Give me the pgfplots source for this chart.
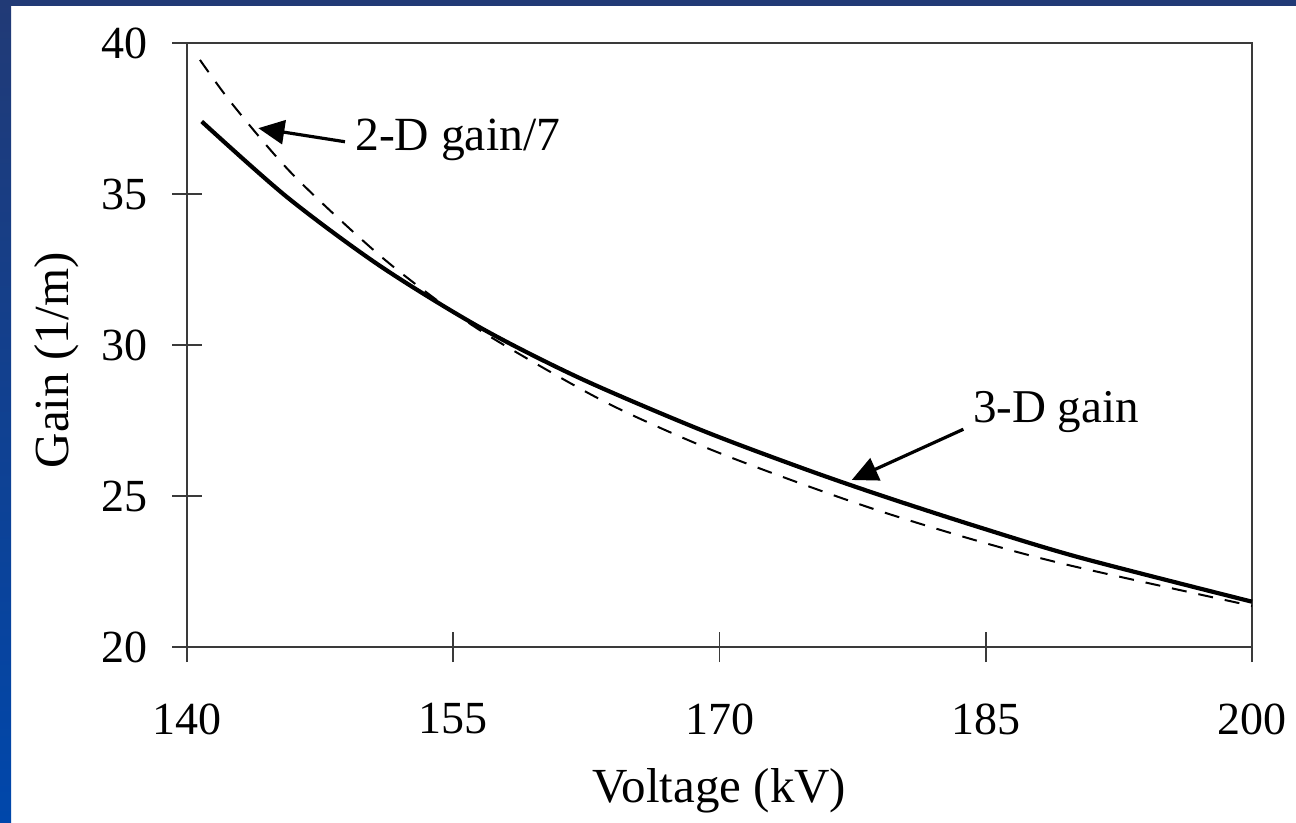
\documentclass[border=0pt]{standalone}
\usepackage{fontspec}
\setmainfont{Liberation Serif}
\usepackage{pgfplots}
\pgfplotsset{compat=1.18}
\usetikzlibrary{arrows.meta}
\definecolor{navy}{HTML}{213A76}
\definecolor{slideblue}{HTML}{0047AB}
\definecolor{axgray}{HTML}{3A3A3A}
\begin{document}
\begin{tikzpicture}
\useasboundingbox (0,0) rectangle (648bp,411.5bp);
\fill[white] (0,0) rectangle (648bp,411.5bp);
\shade[top color=navy, bottom color=slideblue] (0,0) rectangle (5.5bp,411.5bp);
\fill[navy] (0,408.5bp) rectangle (648bp,411.5bp);
\begin{axis}[
  at={(93.5bp,88bp)}, anchor=south west,
  scale only axis, width=532.5bp, height=302bp,
  xmin=140, xmax=200, ymin=20, ymax=40,
  xtick={140,155,170,185,200}, ytick={20,25,30,35,40},
  tick align=center, xtick pos=bottom, ytick pos=left,
  major tick length=15bp,
  axis line style={axgray, line width=1.3bp},
  every tick/.style={axgray, line width=0.9bp},
  /pgf/number format/assume math mode=true,
  ticklabel style={font=\fontsize{23bp}{27bp}\selectfont},
  xticklabel style={anchor=center, yshift=-28.5bp},
  yticklabel style={anchor=east, xshift=-8.5bp},
  xlabel={Voltage (kV)}, ylabel={Gain (1/m)},
  label style={font=\fontsize{24.5bp}{29bp}\selectfont},
  xlabel style={at={(axis description cs:0.5,-0.238)}, anchor=center},
  ylabel style={at={(axis description cs:-0.122,0.475)}, anchor=center, rotate=0},
  clip=false,
]
% 3-D gain (solid)
\addplot[black, line width=2.1bp, smooth] coordinates {
  (140.83,37.40) (145.63,34.90) (150.87,32.62) (156.51,30.58) (162.14,28.90)
  (168.90,27.20) (174.54,25.95) (179.04,25.03) (184.50,23.99) (190.31,22.96) (200,21.50)
};
% 2-D gain / 7 (dashed)
\addplot[black, line width=1bp, dash pattern=on 7.5bp off 6bp, smooth] coordinates {
  (140.73,39.44) (142.63,37.92) (146.0,35.62) (150.89,32.95) (155.0,31.09) (158.0,29.95)
  (163.60,28.10) (169.0,26.66) (174.17,25.50) (179.04,24.50) (184.5,23.52) (189.75,22.70) (200,21.36)
};
\draw[black, line width=1.6bp, -{Triangle[length=13bp,width=12bp]}]
  (axis cs:148.90,36.73) -- (axis cs:144.02,37.18);
\node[anchor=base west, inner sep=0pt, font=\fontsize{23.8bp}{28bp}\selectfont]
  at (axis cs:149.46,36.43) {2-D gain/7};
\draw[black, line width=1.6bp, -{Triangle[length=13bp,width=12bp]}]
  (axis cs:183.74,27.21) -- (axis cs:177.45,25.53);
\node[anchor=base west, inner sep=0pt, font=\fontsize{23.5bp}{28bp}\selectfont]
  at (axis cs:184.26,27.45) {3-D gain};
\end{axis}
\end{tikzpicture}
\end{document}
